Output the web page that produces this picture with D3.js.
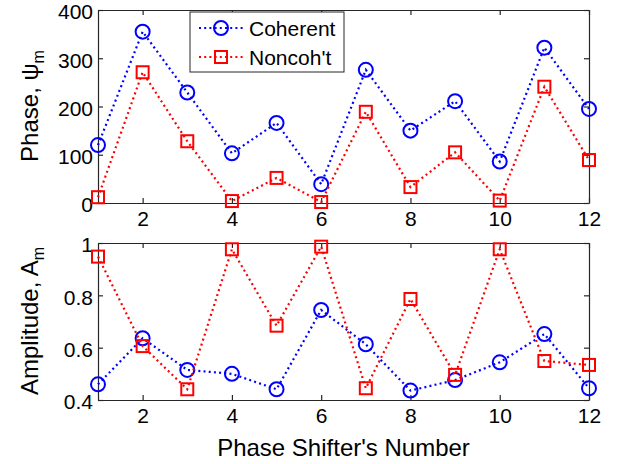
<!DOCTYPE html>
<html>
<head>
<meta charset="utf-8">
<script src="https://cdn.jsdelivr.net/npm/d3@7"></script>
<style>
  body { margin: 0; background: #fff; }
  text { font-family: "Liberation Sans", Arial, sans-serif; fill: #000; }
</style>
</head>
<body>
<div id="chart"></div>
<script>
// data
const shifters = [1, 2, 3, 4, 5, 6, 7, 8, 9, 10, 11, 12];
const phaseCoherent = [120, 355, 229, 103, 166, 39, 276, 150, 211, 86, 322, 195];
const phaseNoncoh = [12, 271, 128, 4, 52, 2, 189, 33, 105, 5, 241, 89];
const ampCoherent = [0.46, 0.636, 0.515, 0.5, 0.441, 0.744, 0.613, 0.436, 0.476, 0.544, 0.652, 0.445];
const ampNoncoh = [0.948, 0.606, 0.441, 0.976, 0.684, 0.986, 0.445, 0.786, 0.496, 0.976, 0.549, 0.534];
const xTicks = [2, 4, 6, 8, 10, 12];
const phaseTicks = [0, 100, 200, 300, 400];
const ampTicks = [0.4, 0.6, 0.8, 1];

const W = 621, H = 464;
const left = 98, right = 589;

const svg = d3.select("#chart").append("svg")
  .attr("width", W)
  .attr("height", H);

const x = d3.scaleLinear().domain([1, 12]).range([left, right]);

const blue = "#0000ff", red = "#ff0000", axisColor = "#262626";

// one subplot
function panel(top, bottom, domain, ticks, fmt, s1, s2) {
  const y = d3.scaleLinear().domain(domain).range([bottom, top]);
  const g = svg.append("g");

  g.append("rect")
    .attr("x", left).attr("y", top)
    .attr("width", right - left).attr("height", bottom - top)
    .attr("fill", "#fff");

  // ticks inward on all four sides
  g.append("g").attr("transform", `translate(0,${bottom})`)
    .call(d3.axisBottom(x).tickValues(xTicks).tickSizeInner(-5).tickSizeOuter(0).tickPadding(8.5));
  g.append("g").attr("transform", `translate(0,${top})`)
    .call(d3.axisTop(x).tickValues(xTicks).tickSizeInner(-5).tickSizeOuter(0).tickFormat(""));
  const yl = g.append("g").attr("transform", `translate(${left},0)`)
    .call(d3.axisLeft(y).tickValues(ticks).tickSizeInner(-5).tickSizeOuter(0).tickPadding(5).tickFormat(fmt));
  yl.selectAll(".tick text").attr("dy", "0.42em");
  g.append("g").attr("transform", `translate(${right},0)`)
    .call(d3.axisRight(y).tickValues(ticks).tickSizeInner(-5).tickSizeOuter(0).tickFormat(""));

  g.selectAll(".domain").attr("stroke", axisColor).attr("stroke-width", 1.2);
  g.selectAll(".tick line").attr("stroke", axisColor).attr("stroke-width", 1.2);
  g.selectAll(".tick text")
    .style("font-family", "'Liberation Sans', Arial, sans-serif")
    .style("font-size", "21px")
    .attr("fill", "#000");

  const line = d3.line().x((d, i) => x(shifters[i])).y(d => y(d));

  // circles series
  g.append("path").datum(s1)
    .attr("d", line).attr("fill", "none")
    .attr("stroke", blue).attr("stroke-width", 2.2)
    .attr("stroke-dasharray", "2,3.2");
  g.selectAll(".c").data(s1).join("circle")
    .attr("cx", (d, i) => x(shifters[i])).attr("cy", d => y(d))
    .attr("r", 7).attr("fill", "none")
    .attr("stroke", blue).attr("stroke-width", 2);

  // squares series
  g.append("path").datum(s2)
    .attr("d", line).attr("fill", "none")
    .attr("stroke", red).attr("stroke-width", 2.2)
    .attr("stroke-dasharray", "2,3.2");
  g.selectAll(".s").data(s2).join("rect")
    .attr("x", (d, i) => x(shifters[i]) - 6).attr("y", d => y(d) - 6)
    .attr("width", 12).attr("height", 12).attr("fill", "none")
    .attr("stroke", red).attr("stroke-width", 2);

  return g;
}

panel(10, 203, [0, 400], phaseTicks, d3.format("d"), phaseCoherent, phaseNoncoh);
panel(243, 400, [0.4, 1], ampTicks, d => (d === 1 ? "1" : d3.format(".1f")(d)), ampCoherent, ampNoncoh);

// y labels
const lab1 = svg.append("text")
  .attr("transform", "translate(38,106) rotate(-90)")
  .attr("text-anchor", "middle")
  .style("font-size", "24px");
lab1.append("tspan").text("Phase, \u03c8");
lab1.append("tspan").attr("dy", 6).style("font-size", "16px").text("m");

const lab2 = svg.append("text")
  .attr("transform", "translate(38,321) rotate(-90)")
  .attr("text-anchor", "middle")
  .style("font-size", "24px");
lab2.append("tspan").text("Amplitude, A");
lab2.append("tspan").attr("dy", 6).style("font-size", "16px").text("m");

// x label
svg.append("text")
  .attr("x", (left + right) / 2).attr("y", 456)
  .attr("text-anchor", "middle")
  .style("font-size", "24px")
  .text("Phase Shifter's Number");

// legend
const lg = svg.append("g");
lg.append("rect")
  .attr("x", 190).attr("y", 12).attr("width", 154).attr("height", 60)
  .attr("fill", "#fff").attr("stroke", axisColor).attr("stroke-width", 1);
const items = [
  { name: "Coherent", color: blue, shape: "circle", y: 28 },
  { name: "Noncoh't", color: red, shape: "square", y: 57 }
];
items.forEach(it => {
  lg.append("line")
    .attr("x1", 199).attr("x2", 243).attr("y1", it.y).attr("y2", it.y)
    .attr("stroke", it.color).attr("stroke-width", 2.2)
    .attr("stroke-dasharray", "2,3.2");
  if (it.shape === "circle") {
    lg.append("circle").attr("cx", 221).attr("cy", it.y).attr("r", 7)
      .attr("fill", "none").attr("stroke", it.color).attr("stroke-width", 2);
  } else {
    lg.append("rect").attr("x", 215).attr("y", it.y - 6).attr("width", 12).attr("height", 12)
      .attr("fill", "none").attr("stroke", it.color).attr("stroke-width", 2);
  }
  lg.append("text")
    .attr("x", 249).attr("y", it.y + 7.5)
    .style("font-size", "21px")
    .text(it.name);
});
</script>
</body>
</html>
